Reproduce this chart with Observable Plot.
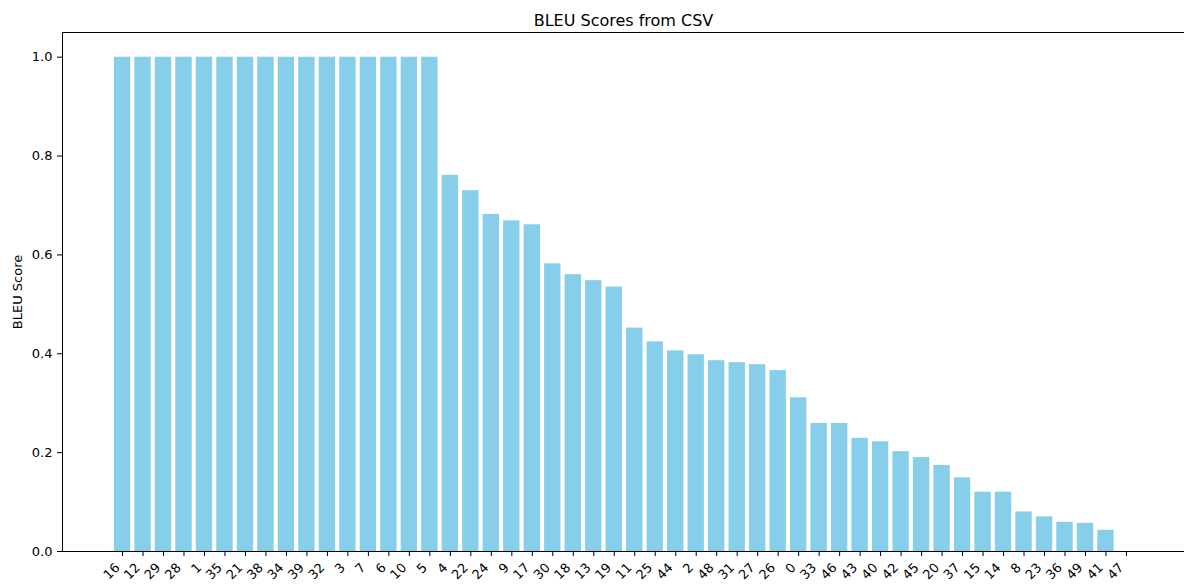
<!DOCTYPE html>
<html>
<head>
<meta charset="utf-8">
<script src="https://cdn.jsdelivr.net/npm/d3@7"></script>
<script src="https://cdn.jsdelivr.net/npm/@observablehq/plot@0.6"></script>
<style>
  html, body { margin: 0; padding: 0; background: #fff; overflow: hidden; }
  svg { display: block; }
  svg g[aria-label*="tick label"] { font-size: 13px; }
  svg g[aria-label*="axis label"] { font-size: 13px; }
</style>
</head>
<body>
<div id="chart"></div>
<script>
const title = "BLEU Scores from CSV";
const yLabel = "BLEU Score";
const labels = ["16","12","29","28","1","35","21","38","34","39","32","3","7","6","10","5",
  "4","22","24","9","17","30","18","13","19","11",
  "25","44","2","48","31","27","26","0","33","46",
  "43","40","42","45","20","37","15","14","8","23",
  "36","49","41","47"];
const scores = [1,1,1,1,1,1,1,1,1,1,1,1,1,1,1,1,
  0.761,0.730,0.682,0.669,0.661,0.582,0.560,0.548,0.535,0.452,
  0.424,0.406,0.398,0.386,0.382,0.378,0.366,0.311,0.259,0.259,
  0.229,0.222,0.202,0.190,0.174,0.149,0.120,0.120,0.080,0.070,
  0.059,0.057,0.043,0];
const yTicks = [0, 0.2, 0.4, 0.6, 0.8, 1.0];

const data = labels.map((l, i) => ({label: l, score: scores[i]}));

const chart = Plot.plot({
  width: 1184,
  height: 587,
  marginLeft: 62,
  marginRight: 0,
  marginTop: 32,
  marginBottom: 36,
  style: {fontFamily: "DejaVu Sans", fontSize: "13px", color: "#000", background: "#fff", overflow: "visible"},
  x: {type: "band", domain: labels, range: [62, 1186], round: false, paddingInner: 0.2, paddingOuter: 2.53, label: null},
  y: {domain: [0, 1.05], label: null},
  marks: [
    Plot.barY(data, {x: "label", y: "score", fill: "#87CEEB"}),
    Plot.axisX({tickRotate: -45, tickSize: 5, tickPadding: 4, label: null, text: null}),
    Plot.axisX({tickRotate: -45, tickSize: 0, tickPadding: 9, label: null, dx: -5, dy: 5}),
    Plot.axisY({ticks: yTicks, tickFormat: ".1f", tickSize: 5, tickPadding: 5,
      label: yLabel, labelAnchor: "center", labelOffset: 50, labelArrow: "none"}),
    Plot.frame({anchor: "left", stroke: "#000"}),
    Plot.frame({anchor: "top", stroke: "#000"}),
    Plot.frame({anchor: "bottom", stroke: "#000"}),
    Plot.text([title], {frameAnchor: "top", dy: -18, fontSize: 16, fill: "#000"})
  ]
});
document.getElementById("chart").appendChild(chart);
</script>
</body>
</html>
